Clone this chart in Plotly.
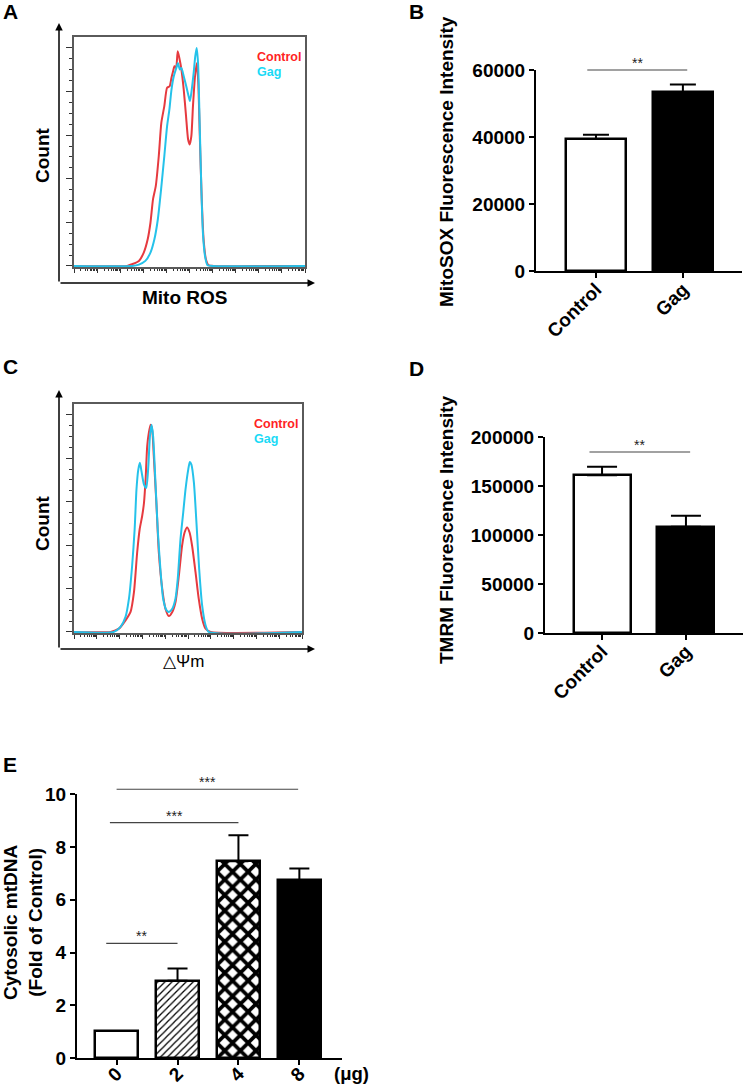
import math
import plotly.graph_objects as go

# ---------------- data ----------------
# Panel A: Mito ROS flow histogram; x = position in log decades, y = % of max count
a_ctrl_x = [0.00, 2.30, 2.52, 2.81, 3.02, 3.19, 3.31, 3.42, 3.54, 3.67, 3.78, 3.91, 4.03, 4.14, 4.22, 4.29,
            4.35, 4.42, 4.49, 4.56, 4.65, 4.75, 4.85, 4.94, 5.01, 5.08, 5.15, 5.24, 5.32, 5.38, 5.45, 5.53,
            5.61, 5.71, 5.83, 6.04, 10.0]
a_ctrl_y = [0, 0, 0.8, 2.3, 6.1, 12.2, 19.8, 30.5, 36.6, 50.4, 65.6, 73.3, 81.7, 82.4, 86.3, 89.3,
            91.6, 90.8, 98.5, 95.4, 90.1, 80.9, 68.7, 58.0, 55.7, 59.5, 73.3, 87.0, 93.1, 84.0, 58.0, 30.5,
            12.2, 3.1, 0.3, 0, 0]
a_gag_x = [0.00, 2.52, 2.81, 3.09, 3.31, 3.48, 3.63, 3.77, 3.91, 4.03, 4.13, 4.22, 4.32, 4.43, 4.50, 4.58,
           4.65, 4.75, 4.86, 4.96, 5.02, 5.09, 5.18, 5.25, 5.31, 5.37, 5.44, 5.51, 5.58, 5.67, 5.78, 5.97, 10.0]
a_gag_y = [0, 0, 0.6, 2.3, 6.1, 12.2, 21.4, 35.1, 50.4, 64.1, 71.8, 80.9, 87.0, 90.8, 93.1, 90.1,
           90.8, 87.0, 82.4, 77.9, 75.6, 80.2, 88.5, 96.2, 100.0, 93.1, 65.6, 36.6, 15.3, 4.6, 0.3, 0, 0]

# Panel C: delta-psi-m flow histogram
c_ctrl_x = [0.00, 1.61, 1.97, 2.26, 2.48, 2.63, 2.77, 2.88, 2.99, 3.07, 3.14, 3.21, 3.28, 3.36, 3.43, 3.50,
            3.62, 3.72, 3.87, 4.01, 4.16, 4.31, 4.45, 4.60, 4.74, 4.85, 4.96, 5.07, 5.18, 5.33, 5.47, 5.62,
            5.77, 5.99, 10.0]
c_ctrl_y = [0, 0, 1.5, 5.3, 9.2, 18.3, 36.6, 47.3, 53.4, 59.5, 70.2, 85.5, 91.6, 95.4, 93.1, 80.9,
            58.0, 36.6, 19.8, 10.7, 7.3, 9.2, 13.7, 26.0, 39.7, 45.8, 48.1, 45.8, 39.7, 27.5, 15.3, 6.1,
            1.5, 0, 0]
c_gag_x = [0.00, 1.75, 2.04, 2.26, 2.41, 2.55, 2.66, 2.74, 2.82, 2.89, 2.96, 3.07, 3.17, 3.26, 3.33, 3.40,
           3.47, 3.58, 3.68, 3.80, 3.91, 4.06, 4.16, 4.31, 4.45, 4.55, 4.67, 4.79, 4.89, 5.01, 5.08, 5.15,
           5.26, 5.37, 5.49, 5.62, 5.77, 5.91, 10.0]
c_gag_y = [0, 0, 2.3, 6.9, 15.3, 30.5, 47.3, 65.6, 74.8, 77.9, 74.0, 67.9, 66.4, 76.3, 90.1, 95.4,
           90.1, 67.2, 45.8, 27.5, 15.3, 9.9, 9.2, 10.7, 15.3, 24.4, 42.7, 55.0, 65.6, 74.8, 78.3, 77.1,
           68.7, 50.4, 29.0, 12.2, 3.1, 0, 0]

# Panel B: MitoSOX
b_groups = ["Control", "Gag"]
b_means = [39400, 53300]
b_err = [1300, 2400]
b_sig_x0 = [-0.10]
b_sig_x1 = [1.05]
b_sig_y = [60000]
b_sig_txt = ["**"]
b_yticks = [0, 20000, 40000, 60000]

# Panel D: TMRM
d_groups = ["Control", "Gag"]
d_means = [161000, 108500]
d_err = [8600, 11200]
d_sig_x0 = [-0.15]
d_sig_x1 = [1.05]
d_sig_y = [184700]
d_sig_txt = ["**"]
d_yticks = [0, 50000, 100000, 150000, 200000]

# Panel E: cytosolic mtDNA
e_groups = ["0", "2", "4", "8"]
e_means = [1.03, 2.93, 7.46, 6.74]
e_err = [0.0, 0.47, 0.98, 0.44]
e_sig_x0 = [-0.17, -0.11, 0.0]
e_sig_x1 = [1.0, 2.0, 2.98]
e_sig_y = [4.35, 8.92, 10.18]
e_sig_txt = ["**", "***", "***"]
e_yticks = [0, 2, 4, 6, 8, 10]

# ---------------- layout helpers ----------------
W, H = 744, 1087
FONT = "Liberation Sans, Arial, Helvetica, sans-serif"
RED_LINE, CYAN_LINE = "#e63a3f", "#25c2ea"
RED_TXT, CYAN_TXT = "#ff2323", "#1adaf6"


def px(x):
    return x / W


def py(y):
    return 1 - y / H


def frac(v, rng):
    return (v - rng[0]) / (rng[1] - rng[0])


def label(x, y, text, size, color="black", angle=0):
    return dict(x=px(x), y=py(y), xref="paper", yref="paper", text=text, textangle=angle,
                xanchor="center", yanchor="middle", showarrow=False,
                font=dict(size=size, color=color, family=FONT))


fig = go.Figure()
annotations = []
shapes = []
layout_axes = {}

# ---------------- histogram panels ----------------
hist_panels = [
    dict(n="", box=(74, 37, 305, 267), ctrl=(a_ctrl_x, a_ctrl_y), gag=(a_gag_x, a_gag_y),
         xlabel="<b>Mito ROS</b>", xlab_pos=(185, 297), xlab_size=19, count_y=155, arrow_top=23, arrow_bot=283),
    dict(n="3", box=(74, 404, 302, 633), ctrl=(c_ctrl_x, c_ctrl_y), gag=(c_gag_x, c_gag_y),
         xlabel="△Ψm", xlab_pos=(183, 661), xlab_size=17, count_y=523, arrow_top=390, arrow_bot=649),
]
h_xrange = [0, 10]
h_yrange = [-0.5, 105]
major_x = list(range(0, 11))
minor_x = [d + math.log10(k) for d in range(0, 10) for k in range(2, 10)]
major_y = [0, 20, 40, 60, 80, 100]
minor_y = [v for v in range(0, 101, 5) if v % 20 != 0]

for p in hist_panels:
    n = p["n"]
    xa, ya = "x" + n, "y" + n
    x0, y0, x1, y1 = p["box"]
    for (xs, ys), col in ((p["ctrl"], RED_LINE), (p["gag"], CYAN_LINE)):
        fig.add_trace(go.Scatter(x=xs, y=ys, mode="lines", xaxis=xa, yaxis=ya, showlegend=False,
                                 hoverinfo="skip",
                                 line=dict(color=col, width=2, shape="spline", smoothing=0.6)))
    layout_axes["xaxis" + n] = dict(
        domain=[px(x0), px(x1)], anchor=ya, range=h_xrange, showline=True, mirror=True,
        linecolor="#5a5a5a", linewidth=1.5, showgrid=False, zeroline=False,
        tickmode="array", tickvals=major_x, ticks="outside", ticklen=4, tickwidth=1, tickcolor="#333",
        showticklabels=False,
        minor=dict(tickmode="array", tickvals=minor_x, ticks="outside", ticklen=2, tickwidth=1, tickcolor="#333"))
    layout_axes["yaxis" + n] = dict(
        domain=[py(y1), py(y0)], anchor=xa, range=h_yrange, showline=True, mirror=True,
        linecolor="#5a5a5a", linewidth=1.5, showgrid=False, zeroline=False,
        tickmode="array", tickvals=major_y, ticks="outside", ticklen=6, tickwidth=1, tickcolor="#333",
        showticklabels=False,
        minor=dict(tickmode="array", tickvals=minor_y, ticks="outside", ticklen=3, tickwidth=1, tickcolor="#333"))
    # outer arrow axes
    annotations.append(dict(x=px(59), y=py(p["arrow_top"]), xref="paper", yref="paper", text="",
                            showarrow=True, ax=0, ay=p["arrow_bot"] - p["arrow_top"], axref="pixel", ayref="pixel",
                            arrowhead=2, arrowsize=1, arrowwidth=1.5, arrowcolor="black", standoff=0))
    annotations.append(dict(x=px(315), y=py(p["arrow_bot"]), xref="paper", yref="paper", text="",
                            showarrow=True, ax=-(315 - 59), ay=0, axref="pixel", ayref="pixel",
                            arrowhead=2, arrowsize=1, arrowwidth=1.5, arrowcolor="black", standoff=0))
    annotations.append(label(42, p["count_y"], "<b>Count</b>", 19, angle=-90))
    annotations.append(label(p["xlab_pos"][0], p["xlab_pos"][1], p["xlabel"], p["xlab_size"]))
    # legend texts
    annotations.append(dict(x=0.782, y=0.913, xref=xa + " domain", yref=ya + " domain", text="<b>Control</b>",
                            xanchor="left", yanchor="middle", showarrow=False,
                            font=dict(size=12.5, color=RED_TXT, family=FONT)))
    annotations.append(dict(x=0.782, y=0.846, xref=xa + " domain", yref=ya + " domain", text="<b>Gag</b>",
                            xanchor="left", yanchor="middle", showarrow=False,
                            font=dict(size=12.5, color=CYAN_TXT, family=FONT)))

# ---------------- bar panels ----------------
bar_panels = [
    dict(n="2", box=(536, 70, 742, 271), groups=b_groups, means=b_means, err=b_err, yticks=b_yticks,
         xrange=[-0.69, 1.68], width=0.69, cap=13, lab_off=-7,
         colors=["white", "black"], pshape=["", ""], psize=[8, 8], psol=[0.3, 0.3],
         sig=(b_sig_x0, b_sig_x1, b_sig_y, b_sig_txt),
         ytitle="<b>MitoSOX Fluorescence Intensity</b>", ytitle_pos=(447, 162)),
    dict(n="4", box=(545, 437, 743, 633), groups=d_groups, means=d_means, err=d_err, yticks=d_yticks,
         xrange=[-0.68, 1.68], width=0.68, cap=15, lab_off=-7,
         colors=["white", "black"], pshape=["", ""], psize=[8, 8], psol=[0.3, 0.3],
         sig=(d_sig_x0, d_sig_x1, d_sig_y, d_sig_txt),
         ytitle="<b>TMRM Fluorescence Intensity</b>", ytitle_pos=(447, 530)),
    dict(n="5", box=(77, 794, 342, 1058.3), groups=e_groups, means=e_means, err=e_err, yticks=e_yticks,
         xrange=[-0.65, 3.70], width=0.70, cap=10, lab_off=-10,
         colors=["white", "white", "white", "black"], pshape=["", "/", "x", ""], psize=[8, 5, 11, 8],
         psol=[0.3, 0.25, 0.55, 0.3],
         sig=(e_sig_x0, e_sig_x1, e_sig_y, e_sig_txt),
         ytitle="<b>Cytosolic mtDNA<br>(Fold of Control)</b>", ytitle_pos=(23, 923)),
]

for p in bar_panels:
    n = p["n"]
    xa, ya = "x" + n, "y" + n
    x0, y0, x1, y1 = p["box"]
    yr = [0, p["yticks"][-1]]
    idx = list(range(len(p["groups"])))
    for i in idx:
        pat = dict(shape=p["pshape"][i], fgcolor="black", bgcolor=p["colors"][i],
                   size=p["psize"][i], solidity=p["psol"][i], fillmode="replace")
        fig.add_trace(go.Bar(
            x=[i], y=[p["means"][i]], width=p["width"], xaxis=xa, yaxis=ya, showlegend=False,
            hoverinfo="skip",
            marker=dict(color=p["colors"][i], line=dict(color="black", width=2.5),
                        pattern=pat if p["pshape"][i] else None),
            error_y=dict(type="data", array=[p["err"][i]], arrayminus=[0], symmetric=False,
                         color="black", thickness=2, width=p["cap"], visible=p["err"][i] > 0)))
    layout_axes["xaxis" + n] = dict(
        domain=[px(x0), px(x1)], anchor=ya, range=p["xrange"], showline=True, linecolor="black", linewidth=2,
        showgrid=False, zeroline=False, tickmode="array", tickvals=idx, ticktext=p["groups"],
        ticks="outside", ticklen=5, tickwidth=2, tickcolor="black", tickangle=-45,
        ticklabelstandoff=p["lab_off"],
        tickfont=dict(size=19, color="black", family=FONT, weight="bold"))
    layout_axes["yaxis" + n] = dict(
        domain=[py(y1), py(y0)], anchor=xa, range=yr, showline=True, linecolor="black", linewidth=2,
        showgrid=False, zeroline=False, tickmode="array", tickvals=p["yticks"], tickformat="d",
        ticks="outside", ticklen=5, tickwidth=2, tickcolor="black",
        tickfont=dict(size=19, color="black", family=FONT, weight="bold"))
    sx0, sx1, sy, st = p["sig"]
    for a, b, yv, t in zip(sx0, sx1, sy, st):
        shapes.append(dict(type="line", xref=xa + " domain", yref=ya + " domain",
                           x0=frac(a, p["xrange"]), x1=frac(b, p["xrange"]),
                           y0=frac(yv, yr), y1=frac(yv, yr), line=dict(color="#444", width=1.2)))
        annotations.append(dict(x=frac((a + b) / 2, p["xrange"]), y=frac(yv, yr),
                                xref=xa + " domain", yref=ya + " domain", text=t, showarrow=False,
                                xanchor="center", yanchor="bottom", yshift=-3,
                                font=dict(size=14, color="#222", family=FONT)))
    annotations.append(label(p["ytitle_pos"][0], p["ytitle_pos"][1], p["ytitle"], 19, angle=-90))

# unit label for panel E
annotations.append(label(351, 1073, "<b>(μg)</b>", 18.5))

# panel letters
for letter, (lx, ly) in {"A": (10, 12), "B": (417, 12), "C": (10, 366), "D": (417, 368), "E": (10, 764)}.items():
    annotations.append(label(lx, ly, "<b>" + letter + "</b>", 21))

fig.update_layout(
    width=W, height=H, margin=dict(l=0, r=0, t=0, b=0, autoexpand=False),
    paper_bgcolor="white", plot_bgcolor="white", showlegend=False,
    font=dict(family=FONT, color="black"), barmode="overlay",
    annotations=annotations, shapes=shapes, bargap=0,
    **layout_axes)

fig.write_html("out.html")
